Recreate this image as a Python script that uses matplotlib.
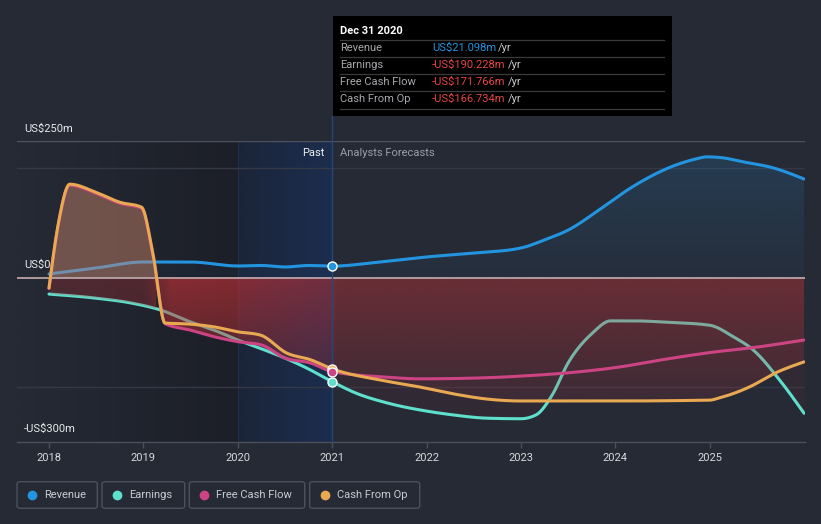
import numpy as np
import matplotlib
matplotlib.use('Agg')
import matplotlib.pyplot as plt
from matplotlib.patches import FancyBboxPatch
from matplotlib.colors import to_rgb

plt.rcParams['font.family'] = ['Roboto', 'DejaVu Sans']

# ---------------- data (US$ m) ----------------
year_ticks = [2018, 2019, 2020, 2021, 2022, 2023, 2024, 2025]

rev_x = [2018.0, 2018.5, 2019.0, 2019.5, 2020.0, 2020.25, 2020.5, 2020.75, 2021.0, 2021.5,
         2022.0, 2022.5, 2023.0, 2023.25, 2023.5, 2023.83, 2024.18, 2024.64,
         2024.85, 2024.97, 2025.15, 2025.35, 2025.67, 2026.0]
rev_y = [6.8, 17.7, 28.7, 28.7, 21.4, 22.3, 19.6, 22.3, 21.098, 28.7,
         37.9, 45, 54.3, 69, 87, 124, 166, 206,
         217, 221, 219, 212, 201, 180.5]

earn_x = [2018.0, 2018.5, 2018.86, 2019.18, 2019.5, 2019.75, 2020.0, 2020.25, 2020.5, 2020.75,
          2021.0, 2021.25, 2021.58, 2022.0, 2022.28, 2022.64, 2023.0, 2023.16, 2023.33, 2023.5,
          2023.76, 2023.95, 2024.2, 2024.5, 2025.0, 2025.25, 2025.46, 2025.74, 2026.0]
earn_y = [-30, -37.5, -46, -59, -81, -96, -114, -130, -147, -167,
          -190.228, -211, -229, -244, -251, -257, -258, -251, -215, -156,
          -101, -79, -79, -81, -87, -108, -132, -187, -248]

fcf_x = [2018.0, 2018.1, 2018.22, 2018.5, 2018.75, 2018.98, 2019.1, 2019.23, 2019.5, 2019.75,
         2020.0, 2020.25, 2020.5, 2020.77, 2021.0, 2021.58, 2021.93, 2022.64, 2023.0, 2023.5,
         2024.06, 2024.5, 2025.0, 2025.5, 2026.0]
fcf_y = [-20, 98, 169, 154, 136, 127, 43, -84, -96, -108,
         -117, -123, -147, -156, -171.766, -182, -185, -183, -180, -174,
         -163, -150, -137, -127, -114]

cfo_x = [2018.0, 2018.1, 2018.22, 2018.5, 2018.75, 2018.98, 2019.1, 2019.23, 2019.5, 2019.75,
         2020.0, 2020.24, 2020.52, 2020.77, 2021.0, 2021.5, 2021.93, 2022.3, 2022.64, 2023.0,
         2024.0, 2025.0, 2025.1, 2025.42, 2025.7, 2026.0]
cfo_y = [-19, 100, 171, 156, 138, 129, 45, -83, -85, -90,
         -99, -105, -138, -150, -166.734, -187, -200, -213, -222, -225.5,
         -225.5, -224, -220, -200, -174, -154]

series_names = ["Revenue", "Earnings", "Free Cash Flow", "Cash From Op"]
tooltip_date = "Dec 31 2020"
tooltip_values = ["US$21.098m", "-US$190.228m", "-US$171.766m", "-US$166.734m"]


# ------------- monotone cubic rendering of a polyline (like d3 curveMonotoneX) -------------
def smooth(xp, yp, n=24):
    x = np.asarray(xp, float)
    y = np.asarray(yp, float)
    h = np.diff(x)
    s = np.diff(y) / h
    m = np.zeros_like(x)
    for i in range(1, len(x) - 1):
        p = (s[i - 1] * h[i] + s[i] * h[i - 1]) / (h[i - 1] + h[i])
        m[i] = (np.sign(s[i - 1]) + np.sign(s[i])) * min(abs(s[i - 1]), abs(s[i]), 0.5 * abs(p))
    m[0] = (3 * s[0] - m[1]) / 2 if len(x) > 2 else s[0]
    m[-1] = (3 * s[-1] - m[-2]) / 2 if len(x) > 2 else s[-1]
    xs, ys = [], []
    t = np.linspace(0, 1, n, endpoint=False)
    for i in range(len(x) - 1):
        h00 = 2 * t ** 3 - 3 * t ** 2 + 1
        h10 = t ** 3 - 2 * t ** 2 + t
        h01 = -2 * t ** 3 + 3 * t ** 2
        h11 = t ** 3 - t ** 2
        xs.append(x[i] + t * h[i])
        ys.append(h00 * y[i] + h10 * h[i] * m[i] + h01 * y[i + 1] + h11 * h[i] * m[i + 1])
    xs.append([x[-1]])
    ys.append([y[-1]])
    return np.concatenate(xs), np.concatenate(ys)


# ---------------- style ----------------
BG = '#262a35'
C_REV = '#2394df'
C_EARN = '#5ee0cc'
C_FCF = '#cc4483'
C_CFO = '#e8a952'
W, H = 821, 524
X0, X1 = 2017.661, 2026.01
Y0, Y1 = -300, 250

fig = plt.figure(figsize=(W / 100, H / 100), dpi=100)
fig.patch.set_facecolor(BG)

ax_top_px, ax_bot_px = 141.0, 441.7
ax = fig.add_axes([17 / W, 1 - ax_bot_px / H, (805 - 17) / W, (ax_bot_px - ax_top_px) / H])
ax.set_facecolor('none')
ax.set_xlim(X0, X1)
ax.set_ylim(Y0, Y1)
for s_ in ['top', 'left', 'right']:
    ax.spines[s_].set_visible(False)
ax.spines['bottom'].set_color('#4a4f5a')
ax.spines['bottom'].set_linewidth(1.0)
ax.set_yticks([])
ax.set_xticks(year_ticks)
ax.set_xticklabels([str(y) for y in year_ticks])
ax.tick_params(axis='x', colors='#4a4f5a', labelcolor='#d6d8dc', length=4, width=1,
               labelsize=8, pad=4)

# past background gradient (darker towards 2020)
bg = np.array(to_rgb(BG))
dark = np.array(to_rgb('#1c1f28'))
nx = 200
t = np.linspace(0, 1, nx)
img = (bg[None, :] * (1 - t[:, None]) + dark[None, :] * t[:, None])[None, :, :]
ax.imshow(img, extent=(X0, 2020.0, Y0, Y1), aspect='auto', zorder=0, interpolation='bilinear')
ax.imshow(np.array([[dark]]), extent=(2020.0, 2021.0, Y0, Y1), aspect='auto', zorder=0)
# blue highlight band 2020-2021
band = np.zeros((1, nx, 4))
band[..., 0:3] = to_rgb('#1a4a9c')
band[..., 3] = np.linspace(0.15, 0.33, nx)
ax.imshow(band, extent=(2020.0, 2021.0, Y0, Y1), aspect='auto', zorder=0.5, interpolation='bilinear')
ax.plot([2020.0, 2020.0], [Y0, Y1], color='#24304a', lw=0.6, zorder=0.6)

# gridlines
ax.axhline(250, color='#4d525c', lw=1.0, zorder=1)
for g in (200, -200):
    ax.axhline(g, color='#343945', lw=1.0, zorder=1)

rsx, rsy = smooth(rev_x, rev_y)
esx, esy = smooth(earn_x, earn_y)
fsx, fsy = smooth(fcf_x, fcf_y)
csx, csy = smooth(cfo_x, cfo_y)

xs = np.linspace(2018.0, 2026.0, 2000)
rev_i = np.interp(xs, rsx, rsy)
earn_i = np.interp(xs, esx, esy)
fcf_i = np.interp(xs, fsx, fsy)
cfo_i = np.interp(xs, csx, csy)
low = np.where(cfo_i > 0, earn_i, np.minimum(cfo_i, fcf_i))
low = np.minimum(low, 0)

# revenue fill (blue gradient)
ny = 200
yy = np.linspace(Y1, 0, ny)
rimg = np.zeros((ny, 2, 4))
rimg[..., 0:3] = to_rgb(C_REV)
rimg[..., 3] = (0.04 + 0.13 * np.clip(yy / 220, 0, 1))[:, None]
poly = ax.fill_between(xs, 0, rev_i, facecolor='none', edgecolor='none')
im = ax.imshow(rimg, extent=(2018.0, 2026.0, 0, Y1), aspect='auto', zorder=1.5, interpolation='bilinear')
im.set_clip_path(poly.get_paths()[0], transform=ax.transData)

# lines under fills
ax.plot(rsx, rsy, color=C_REV, lw=2.2, zorder=2, solid_capstyle='round')
ax.plot(esx, esy, color=C_EARN, lw=2.2, zorder=2, solid_capstyle='round')

# faint earnings fill in forecast (below cash flow lines)
ax.fill_between(xs, np.minimum(cfo_i, 0), np.minimum(earn_i, cfo_i), where=xs > 2021,
                color='#c83236', alpha=0.07, lw=0, zorder=1.8)

# red negative fill (gradient)
nxr = 400
xr = np.linspace(2018.0, 2026.0, nxr)
yr = np.linspace(0, Y0, ny)
ax_alpha = np.interp(xr, [2018, 2019.0, 2019.3, 2020.0, 2021.0, 2021.05, 2026],
                     [0.26, 0.30, 0.62, 0.60, 0.50, 0.42, 0.42])
depth = np.clip(-yr / 250, 0, 1)
nimg = np.zeros((ny, nxr, 4))
nimg[..., 0:3] = to_rgb('#c83236')
nimg[..., 3] = ax_alpha[None, :] * (1 - 0.75 * depth[:, None])
poly2 = ax.fill_between(xs, 0, low, facecolor='none', edgecolor='none')
im2 = ax.imshow(nimg, extent=(2018.0, 2026.0, Y0, 0), aspect='auto', zorder=3, interpolation='bilinear')
im2.set_clip_path(poly2.get_paths()[0], transform=ax.transData)

# orange positive fill
ax.fill_between(xs, 0, np.maximum(cfo_i, 0), where=cfo_i > 0, color='#d08a6e', alpha=0.45,
                lw=0, zorder=3.5, interpolate=True)

# zero line
ax.axhline(0, color='#b9a4a8', lw=1.3, zorder=3.6)

ax.plot(fsx, fsy, color=C_FCF, lw=2.2, zorder=4, solid_capstyle='round')
ax.plot(csx, csy, color=C_CFO, lw=2.2, zorder=5, solid_capstyle='round')

# cursor line and dots at 2021
top_val = Y1 + (ax_top_px - 116) / ((ax_bot_px - ax_top_px) / (Y1 - Y0))
ax.plot([2021.0, 2021.0], [Y0, top_val], color='#27477a', lw=1.0, zorder=5.5, clip_on=False)
for xv, yv, c in [(rev_x[8], rev_y[8], C_REV), (cfo_x[14], cfo_y[14], C_CFO),
                  (fcf_x[14], fcf_y[14], C_FCF), (earn_x[10], earn_y[10], C_EARN)]:
    ax.plot([xv], [yv], 'o', ms=6.5, mfc=c, mec='white', mew=1.0, zorder=6)


# ---------------- text ----------------
def fx(px):
    return px / W


def fy(py):
    return 1 - py / H


fig.text(fx(24), fy(129), "US$250m", color='#e6e8eb', fontsize=8, va='center', ha='left')
fig.text(fx(24), fy(265), "US$0", color='#e6e8eb', fontsize=8, va='center', ha='left')
fig.text(fx(24), fy(429), "-US$300m", color='#e6e8eb', fontsize=8, va='center', ha='left')
fig.text(fx(324), fy(153), "Past", color='#eceef0', fontsize=8, va='center', ha='right')
fig.text(fx(340), fy(153), "Analysts Forecasts", color='#9a9ea6', fontsize=8, va='center', ha='left')

# tooltip
tip = FancyBboxPatch((fx(333), fy(116)), fx(672) - fx(333), fy(16) - fy(116),
                     boxstyle='square,pad=0', transform=fig.transFigure,
                     facecolor='#000000', edgecolor='none', zorder=10)
fig.patches.append(tip)
fig.text(fx(340), fy(31.5), tooltip_date, color='white', fontsize=8, fontweight='bold',
         va='center', ha='left', zorder=11)
row_y = [48.3, 65.0, 82.3, 99.3]
sep_y = [40.3, 57.3, 74.3, 91.3, 108.7]
for sy in sep_y:
    fig.add_artist(plt.Line2D([fx(340), fx(664)], [fy(sy), fy(sy)], color='#3a3a3a', lw=0.9,
                              transform=fig.transFigure, zorder=11))
yr_x = [498, 508, 508, 508]
val_colors = [C_REV, '#e84545', '#e84545', '#e84545']
for i in range(4):
    fig.text(fx(340), fy(row_y[i]), series_names[i], color='#a6a8ac', fontsize=8,
             va='center', ha='left', zorder=11)
    fig.text(fx(432), fy(row_y[i]), tooltip_values[i], color=val_colors[i], fontsize=8,
             va='center', ha='left', zorder=11)
    fig.text(fx(yr_x[i]), fy(row_y[i]), "/yr", color='#c8cacd', fontsize=8,
             va='center', ha='left', zorder=11)

# legend
boxes = [(17, 97.3), (102, 184.7), (189.3, 304.7), (309.7, 419.7)]
leg_colors = [C_REV, C_EARN, C_FCF, C_CFO]
for (l, r), name, c in zip(boxes, series_names, leg_colors):
    b = FancyBboxPatch((fx(l), fy(508.3)), fx(r) - fx(l), fy(481.7) - fy(508.3),
                       boxstyle='round,pad=0,rounding_size=0.004', transform=fig.transFigure,
                       facecolor='none', edgecolor='#4a505c', lw=1.0)
    fig.patches.append(b)
    fig.add_artist(plt.Line2D([fx(l + 15)], [fy(494.5)], marker='o', ms=6, mfc=c, mec=c,
                              transform=fig.transFigure))
    fig.text(fx(l + 27), fy(494.5), name, color='#c9ccd1', fontsize=8, va='center', ha='left')

fig.savefig('out.png', dpi=100, facecolor=BG)
